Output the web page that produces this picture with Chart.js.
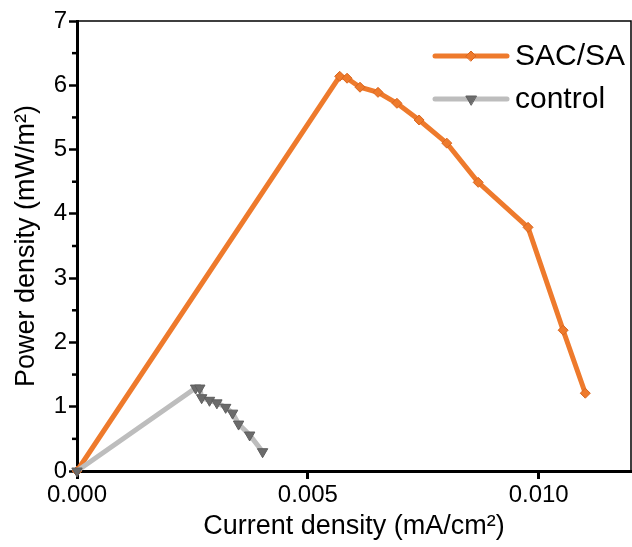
<!DOCTYPE html>
<html>
<head>
<meta charset="utf-8">
<script src="https://cdn.jsdelivr.net/npm/chart.js@4.4.1/dist/chart.umd.min.js"></script>
<style>
  html, body { margin: 0; padding: 0; background: #fff; overflow: hidden; }
  #wrap { width: 632px; height: 547px; position: relative; }
</style>
</head>
<body>
<div id="wrap"><canvas id="powerChart"></canvas></div>
<script>
// power density curves
var sacCurrent = [0, 0.00569, 0.00585, 0.00613, 0.00652, 0.00693, 0.00741, 0.00801, 0.00869, 0.00977, 0.01053, 0.01101];
var sacPower = [0, 6.14, 6.11, 5.97, 5.89, 5.72, 5.46, 5.10, 4.49, 3.79, 2.19, 1.21];

var ctrlCurrent = [0, 0.00257, 0.00266, 0.00270, 0.00287, 0.00303, 0.00322, 0.00337, 0.00350, 0.00374, 0.00402];
var ctrlPower = [0, 1.29, 1.29, 1.14, 1.10, 1.06, 0.99, 0.90, 0.73, 0.56, 0.30];

var seriesNames = ['SAC/SA', 'control'];
var yMinorTicks = [0.5, 1.5, 2.5, 3.5, 4.5, 5.5, 6.5];

var FONT = "'Liberation Sans', Arial, sans-serif";

function toPoints(xs, ys) {
    return xs.map(function (x, i) { return { x: x, y: ys[i] }; });
}

// top/right frame, minor y ticks and the line+marker legend
var extras = {
    id: 'extras',
    afterDraw: function (chart) {
        var ctx = chart.ctx, area = chart.chartArea, y = chart.scales.y;
        ctx.save();
        ctx.strokeStyle = '#000';
        ctx.lineWidth = 1.5;
        ctx.beginPath();
        ctx.moveTo(area.left, area.top);
        ctx.lineTo(area.right, area.top);
        ctx.lineTo(area.right, area.bottom);
        ctx.stroke();

        ctx.lineWidth = 2.5;
        yMinorTicks.forEach(function (v) {
            var py = y.getPixelForValue(v);
            ctx.beginPath();
            ctx.moveTo(area.left - 5, py);
            ctx.lineTo(area.left, py);
            ctx.stroke();
        });

        // legend: line with marker in the middle, label on the right
        var rows = [56, 99];
        chart.data.datasets.forEach(function (ds, i) {
            var ly = rows[i];
            ctx.strokeStyle = ds.borderColor;
            ctx.lineWidth = ds.borderWidth;
            ctx.lineCap = 'round';
            ctx.beginPath();
            ctx.moveTo(435, ly);
            ctx.lineTo(507, ly);
            ctx.stroke();
            ctx.fillStyle = ds.pointBackgroundColor;
            ctx.strokeStyle = ds.pointBorderColor;
            ctx.lineWidth = 1;
            Chart.helpers.drawPoint(ctx, {
                pointStyle: ds.pointStyle,
                rotation: ds.pointRotation || 0,
                radius: ds.pointRadius,
                borderWidth: 1
            }, 471, ly);
            ctx.fillStyle = '#000';
            ctx.font = "30px " + FONT;
            ctx.textBaseline = 'middle';
            ctx.textAlign = 'left';
            ctx.fillText(ds.label, 515, ly + 1);
        });
        ctx.restore();
    }
};

var ctx = document.getElementById('powerChart');
var chart = new Chart(ctx, {
    type: 'scatter',
    data: {
        datasets: [{
            label: seriesNames[0],
            data: toPoints(sacCurrent, sacPower),
            showLine: true,
            borderColor: '#EE7A2C',
            backgroundColor: '#E8702A',
            borderWidth: 5,
            pointStyle: 'rectRot',
            pointRadius: 5,
            pointBorderColor: '#D9661F',
            pointBackgroundColor: '#EE7A2C',
            pointBorderWidth: 1,
            order: 1
        }, {
            label: seriesNames[1],
            data: toPoints(ctrlCurrent, ctrlPower),
            showLine: true,
            borderColor: '#BDBDBD',
            backgroundColor: '#6B6B6B',
            borderWidth: 5,
            pointStyle: 'triangle',
            pointRotation: 180,
            pointRadius: 6,
            pointBorderColor: '#5E5E5E',
            pointBackgroundColor: '#6B6B6B',
            pointBorderWidth: 1,
            order: 0
        }]
    },
    options: {
        responsive: true,
        maintainAspectRatio: false,
        animation: false,
        clip: false,
        layout: { autoPadding: false, padding: { top: 21, right: 1, left: 0, bottom: 0 } },
        plugins: {
            legend: { display: false },
            tooltip: { enabled: false }
        },
        scales: {
            x: {
                type: 'linear',
                min: 0,
                max: 0.012,
                afterFit: function (s) { s.height = 76; },
                border: { display: true, color: '#000', width: 3 },
                grid: { drawOnChartArea: false, drawTicks: true, tickLength: 8, tickColor: '#000', tickWidth: 3 },
                ticks: {
                    stepSize: 0.005,
                    includeBounds: false,
                    padding: 2,
                    color: '#000',
                    font: { family: FONT, size: 24 },
                    maxRotation: 0,
                    callback: function (v) { return v.toFixed(3); }
                },
                title: {
                    display: true,
                    text: 'Current density (mA/cm²)',
                    color: '#000',
                    font: { family: FONT, size: 27 },
                    padding: { top: 0, bottom: 4 }
                }
            },
            y: {
                type: 'linear',
                min: 0,
                max: 7,
                afterFit: function (s) { s.width = 77; },
                border: { display: true, color: '#000', width: 3 },
                grid: { drawOnChartArea: false, drawTicks: true, tickLength: 8, tickColor: '#000', tickWidth: 2.5 },
                ticks: {
                    stepSize: 1,
                    padding: 2,
                    color: '#000',
                    font: { family: FONT, size: 24 }
                },
                title: {
                    display: true,
                    text: 'Power density (mW/m²)',
                    color: '#000',
                    font: { family: FONT, size: 27 },
                    padding: { top: 10, bottom: 0 }
                }
            }
        }
    },
    plugins: [extras]
});
</script>
</body>
</html>
